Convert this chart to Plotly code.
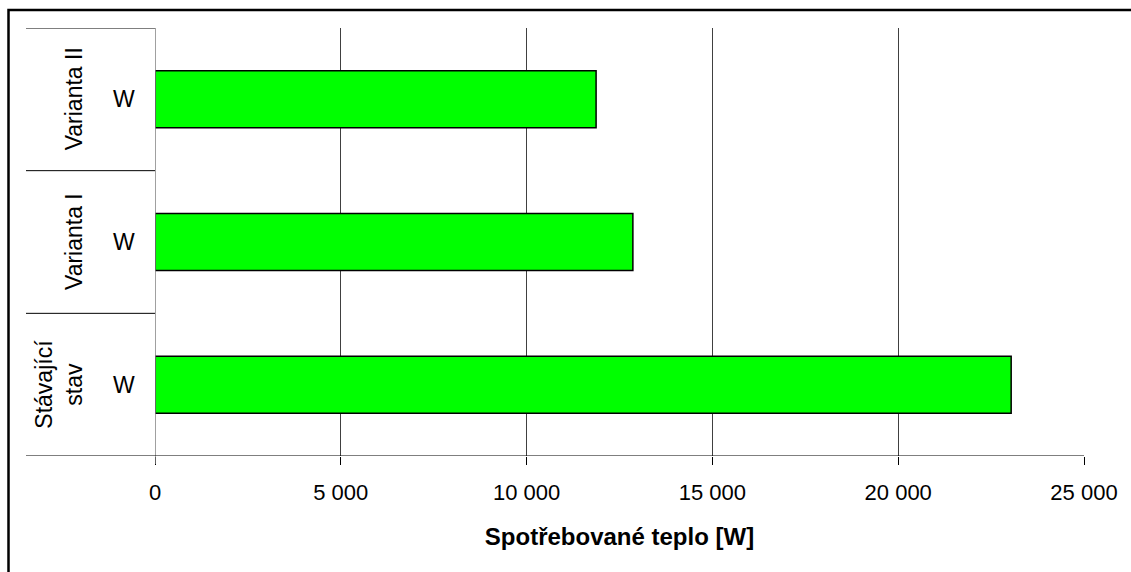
import plotly.graph_objects as go

# Heat consumption per variant
categories = ["Stávající stav", "Varianta I", "Varianta II"]
group_labels = ["Stávající<br>stav", "Varianta I", "Varianta II"]
unit_labels = ["W", "W", "W"]
values = [23040, 12860, 11870]
tick_values = [0, 5000, 10000, 15000, 20000, 25000]
tick_labels = ["0", "5 000", "10 000", "15 000", "20 000", "25 000"]
x_title = "Spotřebované teplo [W]"

FONT = "Liberation Sans, Arial, sans-serif"
TICK_FS = 22
CAT_FS = 23
TITLE_FS = 24

fig = go.Figure(
    go.Bar(
        y=categories,
        x=values,
        orientation="h",
        width=0.4,
        marker=dict(color="#00FF00", line=dict(color="black", width=1.5)),
        hoverinfo="x+y",
    )
)

W, H = 1131, 572
ml, mr, mt, mb = 155, 47, 28, 116
pw = W - ml - mr
ph = H - mt - mb


def px_x(p):
    return (p - ml) / pw


def px_y(p):
    return (H - mb - p) / ph


fig.update_layout(
    width=W,
    height=H,
    margin=dict(l=ml, r=mr, t=mt, b=mb, pad=0),
    paper_bgcolor="white",
    plot_bgcolor="white",
    showlegend=False,
    font=dict(family=FONT, size=TICK_FS, color="black"),
    bargap=0.6,
)

fig.update_xaxes(
    range=[0, 25000],
    tickvals=tick_values,
    ticktext=tick_labels,
    showgrid=True,
    gridcolor="#404040",
    gridwidth=1,
    zeroline=False,
    showline=False,
    ticks="outside",
    ticklen=8,
    tickcolor="black",
    tickwidth=1,
    ticklabelstandoff=9,
    tickfont=dict(size=TICK_FS),
    title=dict(text=x_title, font=dict(size=TITLE_FS, family=FONT, weight="bold"), standoff=23),
)
fig.update_yaxes(
    range=[-0.5, 2.5],
    categoryorder="array",
    categoryarray=categories,
    showticklabels=False,
    showgrid=False,
    zeroline=False,
    showline=False,
    ticks="",
)

shapes = []
# outer frame of the chart
shapes.append(dict(type="rect", xref="paper", yref="paper",
                   x0=px_x(8.5), x1=px_x(1140), y0=px_y(600), y1=px_y(10),
                   line=dict(color="black", width=2.5), fillcolor="rgba(0,0,0,0)",
                   layer="above"))
# category axis line at x = 0
shapes.append(dict(type="line", xref="x", yref="paper",
                   x0=0, x1=0, y0=px_y(464), y1=1,
                   line=dict(color="#808080", width=1.5)))
# value axis baseline, extended under the category table
shapes.append(dict(type="line", xref="paper", yref="y",
                   x0=px_x(26), x1=1, y0=-0.5, y1=-0.5,
                   line=dict(color="black", width=1.2)))
# category separators
for yv in [0.5, 1.5, 2.5]:
    shapes.append(dict(type="line", xref="paper", yref="y",
                       x0=px_x(26), x1=0, y0=yv, y1=yv,
                       line=dict(color="black", width=1)))
fig.update_layout(shapes=shapes)

annotations = []
for cat, g, u in zip(categories, group_labels, unit_labels):
    annotations.append(dict(xref="paper", yref="y", x=px_x(89), y=cat,
                            text=g, textangle=-90, showarrow=False,
                            xanchor="right", yanchor="middle",
                            font=dict(size=CAT_FS, family=FONT)))
    annotations.append(dict(xref="paper", yref="y", x=px_x(124), y=cat,
                            text=u, showarrow=False,
                            xanchor="center", yanchor="middle",
                            font=dict(size=CAT_FS, family=FONT)))
fig.update_layout(annotations=annotations)

fig.write_html("out.html")
